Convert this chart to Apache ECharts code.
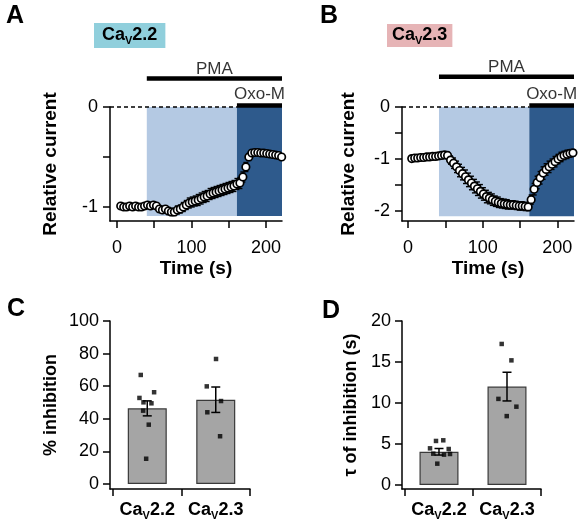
<!DOCTYPE html>
<html><head><meta charset="utf-8">
<script src="https://cdn.jsdelivr.net/npm/echarts@6/dist/echarts.min.js"></script>
<style>html,body{margin:0;padding:0;background:#fff}#c{width:582px;height:527px}</style>
</head><body><div id="c"></div>
<script>
const FONT = '"Liberation Sans", Arial, Helvetica, sans-serif';

// ---------- Panel A / B : time course ----------
const timeS = [5,9,13,17,21,25,29,33,37,41,45,49,53,57,61,65,69,73,77,81,85,89,93,97,101,105,109,113,117,121,125,129,133,137,141,145,149,153,157,161,165,169,173,177,181,185,189,193,197,201,205,209,213,217,221];
const currentA = [-0.99,-1.00,-1.00,-0.99,-1.00,-0.99,-1.00,-1.00,-0.99,-0.98,-0.99,-0.98,-0.99,-1.02,-1.03,-1.02,-1.04,-1.05,-1.05,-1.03,-1.02,-1.00,-0.98,-0.96,-0.95,-0.94,-0.93,-0.915,-0.90,-0.89,-0.87,-0.86,-0.85,-0.84,-0.83,-0.82,-0.81,-0.80,-0.79,-0.77,-0.76,-0.70,-0.60,-0.50,-0.46,-0.455,-0.455,-0.46,-0.46,-0.465,-0.47,-0.475,-0.48,-0.485,-0.50];
const semA = [0.015,0.015,0.015,0.015,0.015,0.015,0.015,0.015,0.015,0.02,0.02,0.02,0.02,0.025,0.03,0.03,0.035,0.035,0.035,0.04,0.04,0.045,0.045,0.05,0.05,0.05,0.055,0.055,0.055,0.055,0.055,0.055,0.055,0.055,0.055,0.055,0.055,0.055,0.055,0.055,0.055,0.05,0.045,0.035,0.03,0.025,0.025,0.025,0.025,0.025,0.025,0.025,0.025,0.025,0.025];
const currentB = [-0.99,-0.98,-0.98,-0.97,-0.97,-0.96,-0.96,-0.95,-0.95,-0.94,-0.93,-0.92,-0.93,-1.02,-1.08,-1.15,-1.22,-1.28,-1.34,-1.40,-1.46,-1.52,-1.57,-1.62,-1.67,-1.72,-1.75,-1.78,-1.81,-1.83,-1.85,-1.86,-1.87,-1.88,-1.88,-1.89,-1.90,-1.90,-1.91,-1.92,-1.78,-1.58,-1.45,-1.36,-1.27,-1.20,-1.15,-1.10,-1.05,-1.00,-0.96,-0.93,-0.91,-0.89,-0.88];
const semB = [0.02,0.02,0.02,0.02,0.02,0.02,0.02,0.02,0.02,0.02,0.02,0.03,0.04,0.08,0.1,0.11,0.12,0.12,0.13,0.13,0.13,0.13,0.13,0.13,0.12,0.12,0.11,0.11,0.1,0.1,0.09,0.09,0.09,0.08,0.08,0.08,0.08,0.08,0.08,0.07,0.09,0.11,0.12,0.12,0.12,0.11,0.11,0.1,0.1,0.09,0.09,0.08,0.08,0.07,0.06];
// drug application windows [start, end] in s
const pmaA = [40, 221.5];
const oxoA = [161, 221.5];
const pmaB = [41.5, 222.4];
const oxoB = [162.5, 222.4];
const timeTicks = [0, 50, 100, 150, 200];
const timeLabels = [0, 100, 200];
const currTicksA = [0, -0.5, -1];
const currLabelsA = [0, -1];
const currTicksB = [0, -0.5, -1, -1.5, -2];
const currLabelsB = [0, -1, -2];

// ---------- Panel C / D : summary bars ----------
const categories = ['CaV2.2', 'CaV2.3'];
const inhibMean = [46.4, 51.7];
const inhibSem = [4.6, 7.8];
const inhib22 = [66.9, 56.3, 52.8, 50.1, 49.5, 45.0, 36.4, 15.5];
const inhib22Jit = [-0.095, 0.10, -0.114, -0.055, 0.061, -0.06, 0.022, -0.016];
const inhib23 = [76.7, 59.9, 50.9, 44.0, 29.3];
const inhib23Jit = [0.004, -0.131, 0.077, -0.123, 0.063];
const tauMean = [4.05, 12.0];
const tauSem = [0.4, 1.75];
const tau22 = [5.37, 5.45, 4.47, 4.39, 3.82, 3.70, 3.78, 2.60];
const tau22Jit = [-0.044, 0.063, -0.132, 0.143, -0.084, 0.074, 0.162, -0.025];
const tau23 = [17.2, 15.2, 10.5, 9.55, 8.4];
const tau23Jit = [-0.078, 0.065, -0.126, 0.138, -0.004];
const inhibTicks = [0, 20, 40, 60, 80, 100];
const tauTicks = [0, 5, 10, 15, 20];

// ---------- styles ----------
const LIGHT = '#b4c9e3';
const DARK = '#2e5a8c';
const AX = { color: '#000', width: 1.5 };
const AXLINE = { onZero: false, lineStyle: AX };

const chart = echarts.init(document.getElementById('c'), null, { renderer: 'canvas' });

const subRich = {
  a: { fontSize: 18, fontWeight: 'bold', color: '#000', fontFamily: FONT, lineHeight: 20, verticalAlign: 'top' },
  s: { fontSize: 11, fontWeight: 'bold', color: '#000', fontFamily: FONT, lineHeight: 11, verticalAlign: 'bottom' }
};
function subName(n) { return '{a|Ca}{s|V}{a|' + n.replace('CaV', '') + '}'; }

function timeAxes(gi, min, max, nameGapY, yMin, yTicks, yLabels) {
  return {
    x: {
      gridIndex: gi, type: 'value', min: min, max: max,
      axisLine: AXLINE, splitLine: { show: false },
      axisTick: { customValues: timeTicks, length: 7, lineStyle: AX },
      axisLabel: { customValues: timeLabels, fontSize: 18, color: '#000', fontFamily: FONT, margin: 18 },
      name: 'Time (s)', nameLocation: 'middle', nameGap: 38,
      nameTextStyle: { fontSize: 19, fontWeight: 'bold', color: '#000', fontFamily: FONT }
    },
    y: {
      gridIndex: gi, type: 'value', min: yMin, max: 0,
      axisLine: AXLINE, splitLine: { show: false },
      axisTick: { customValues: yTicks, length: 7, lineStyle: AX },
      axisLabel: { customValues: yLabels, fontSize: 18, color: '#000', fontFamily: FONT, margin: 12 },
      name: 'Relative current', nameLocation: 'middle', nameGap: nameGapY, nameRotate: 90,
      nameTextStyle: { fontSize: 19, fontWeight: 'bold', color: '#000', fontFamily: FONT }
    }
  };
}
const tA = timeAxes(0, -9.4, 221.5, 50, -1.14, currTicksA, currLabelsA);
const tB = timeAxes(2, -8.05, 222.4, 44, -2.19, currTicksB, currLabelsB);

function barAxes(gi, yMax, yMin, ticks, yName, nameGap) {
  return {
    x: {
      gridIndex: gi, type: 'value', min: -0.544, max: 1.5,
      axisLine: AXLINE, splitLine: { show: false },
      axisTick: { customValues: [-0.5, 0.5, 1.5], length: 7, lineStyle: AX },
      axisLabel: { customValues: [0, 1], margin: 12, formatter: v => subName(categories[Math.round(v)]), rich: subRich }
    },
    y: {
      gridIndex: gi, type: 'value', min: yMin, max: yMax,
      axisLine: AXLINE, splitLine: { show: false },
      axisTick: { customValues: ticks, length: 7, lineStyle: AX },
      axisLabel: { customValues: ticks, fontSize: 18, color: '#000', fontFamily: FONT, margin: 11 },
      name: yName, nameLocation: 'middle', nameGap: nameGap, nameRotate: 90,
      nameTextStyle: { fontSize: 18, fontWeight: 'bold', color: '#000', fontFamily: FONT }
    }
  };
}
const bC = barAxes(4, 100, -3.07, inhibTicks, '% inhibition', 50);
const bD = barAxes(5, 20, -0.49, tauTicks, 'τ of inhibition (s)', 42);

const hiddenX = (gi, min, max) => ({ gridIndex: gi, type: 'value', min, max, show: false });
const hiddenY = (gi) => ({ gridIndex: gi, type: 'value', min: 0, max: 1, show: false });

function shadeSeries(xi, yi, pma, oxo, bottom) {
  return {
    type: 'custom', xAxisIndex: xi, yAxisIndex: yi, z: 1, silent: true,
    data: [[pma[0], oxo[0], 0, bottom, 0], [oxo[0], oxo[1], 0, bottom, 1]],
    renderItem: (p, api) => {
      const a = api.coord([api.value(0), api.value(2)]);
      const b = api.coord([api.value(1), api.value(3)]);
      return { type: 'rect', shape: { x: a[0], y: a[1], width: b[0] - a[0], height: b[1] - a[1] },
               style: { fill: api.value(4) ? DARK : LIGHT } };
    }
  };
}
function errSeries(xi, yi, t, m, e, cap, lw) {
  return {
    type: 'custom', xAxisIndex: xi, yAxisIndex: yi, z: 3, silent: true,
    data: t.map((v, i) => [v, m[i], e[i]]),
    renderItem: (p, api) => {
      const x = api.value(0), y = api.value(1), s = api.value(2);
      const hi = api.coord([x, y + s]), lo = api.coord([x, y - s]);
      const st = { stroke: '#000', lineWidth: lw };
      return { type: 'group', children: [
        { type: 'line', shape: { x1: hi[0], y1: hi[1], x2: lo[0], y2: lo[1] }, style: st },
        { type: 'line', shape: { x1: hi[0] - cap, y1: hi[1], x2: hi[0] + cap, y2: hi[1] }, style: st },
        { type: 'line', shape: { x1: lo[0] - cap, y1: lo[1], x2: lo[0] + cap, y2: lo[1] }, style: st }
      ] };
    }
  };
}
function circleSeries(xi, yi, t, m) {
  return {
    type: 'scatter', xAxisIndex: xi, yAxisIndex: yi, z: 5, silent: true,
    data: t.map((v, i) => [v, m[i]]), symbol: 'circle', symbolSize: 7.5,
    itemStyle: { color: '#fff', borderColor: '#000', borderWidth: 1.7, opacity: 1 }
  };
}
function zeroLine(xi, yi, xmin, oxo) {
  return {
    type: 'line', xAxisIndex: xi, yAxisIndex: yi, z: 2, silent: true, clip: false,
    data: [[xmin, 0], [oxo[0], 0]], symbol: 'none',
    lineStyle: { color: '#000', width: 1.3, type: [4, 3] }
  };
}
function drugBar(xi, yi, win, level, text, dist) {
  return [{
    type: 'line', xAxisIndex: xi, yAxisIndex: yi, z: 4, silent: true, clip: false,
    data: [[win[0], level], [win[1], level]], symbol: 'none',
    lineStyle: { color: '#000', width: 4.5, cap: 'butt' }
  }, {
    type: 'scatter', xAxisIndex: xi, yAxisIndex: yi, z: 4, silent: true,
    data: [[(win[0] + win[1]) / 2, level]], symbolSize: 0,
    label: { show: true, position: 'top', distance: dist, formatter: text, fontSize: 17, color: '#000', fontFamily: FONT }
  }];
}
function barSeries(xi, yi, mean) {
  return {
    type: 'bar', xAxisIndex: xi, yAxisIndex: yi, z: 2, silent: true, barWidth: 39,
    data: mean.map((v, i) => [i, v]),
    itemStyle: { color: '#a5a5a5', borderColor: '#3a3a3a', borderWidth: 1.2 }
  };
}
function barErr(xi, yi, mean, sem) {
  return errSeries(xi, yi, mean.map((v, i) => i), mean, sem, 4.5, 1.5);
}
function dots(xi, yi, vals, jit, idx) {
  return {
    type: 'scatter', xAxisIndex: xi, yAxisIndex: yi, z: 6, silent: true,
    data: vals.map((v, i) => [idx + jit[i], v]), symbol: 'rect', symbolSize: 4.5,
    itemStyle: { color: '#000' }
  };
}

const letter = (t, l, tp) => ({ text: t, left: l, top: tp, padding: 0,
  textStyle: { fontSize: 25, fontWeight: 'bold', color: '#000', fontFamily: FONT } });
const tag = (n, l, tp, bg, pad) => ({ text: subName(n), left: l, top: tp, padding: pad, backgroundColor: bg,
  textStyle: { rich: subRich } });

chart.setOption({
  animation: false,
  backgroundColor: '#fff',
  title: [
    letter('A', 6, 4), letter('B', 320, 4), letter('C', 7, 297), letter('D', 322, 299),
    tag('CaV2.2', 94, 23, '#90cfdc', [3, 8, 2, 8]),
    tag('CaV2.3', 387, 24, '#e6b4b6', [2, 5, 1, 5])
  ],
  grid: [
    { left: 110, right: 300, top: 107, bottom: 306 },
    { left: 110, right: 300, top: 55, height: 52 },
    { left: 402, right: 8, top: 107, bottom: 306 },
    { left: 402, right: 8, top: 55, height: 52 },
    { left: 110, right: 332, top: 321, bottom: 38 },
    { left: 402, right: 41, top: 321, bottom: 38 }
  ],
  xAxis: [tA.x, hiddenX(1, -9.4, 221.5), tB.x, hiddenX(3, -8.05, 222.4), bC.x, bD.x],
  yAxis: [tA.y, hiddenY(1), tB.y, hiddenY(3), bC.y, bD.y],
  series: [
    shadeSeries(0, 0, pmaA, oxoA, -1.09),
    zeroLine(0, 0, -9.4, oxoA),
    errSeries(0, 0, timeS, currentA, semA, 2.5, 1.4),
    circleSeries(0, 0, timeS, currentA),
    ...drugBar(1, 1, pmaA, 0.55, 'PMA', 1),
    ...drugBar(1, 1, oxoA, 0.03, 'Oxo-M', 2.5),

    shadeSeries(2, 2, pmaB, oxoB, -2.1),
    zeroLine(2, 2, -8.05, oxoB),
    errSeries(2, 2, timeS, currentB, semB, 2.5, 1.4),
    circleSeries(2, 2, timeS, currentB),
    ...drugBar(3, 3, pmaB, 0.58, 'PMA', 1),
    ...drugBar(3, 3, oxoB, 0.03, 'Oxo-M', 2.5),

    barSeries(4, 4, inhibMean),
    barErr(4, 4, inhibMean, inhibSem),
    dots(4, 4, inhib22, inhib22Jit, 0),
    dots(4, 4, inhib23, inhib23Jit, 1),

    barSeries(5, 5, tauMean),
    barErr(5, 5, tauMean, tauSem),
    dots(5, 5, tau22, tau22Jit, 0),
    dots(5, 5, tau23, tau23Jit, 1)
  ]
});
</script>
</body></html>
